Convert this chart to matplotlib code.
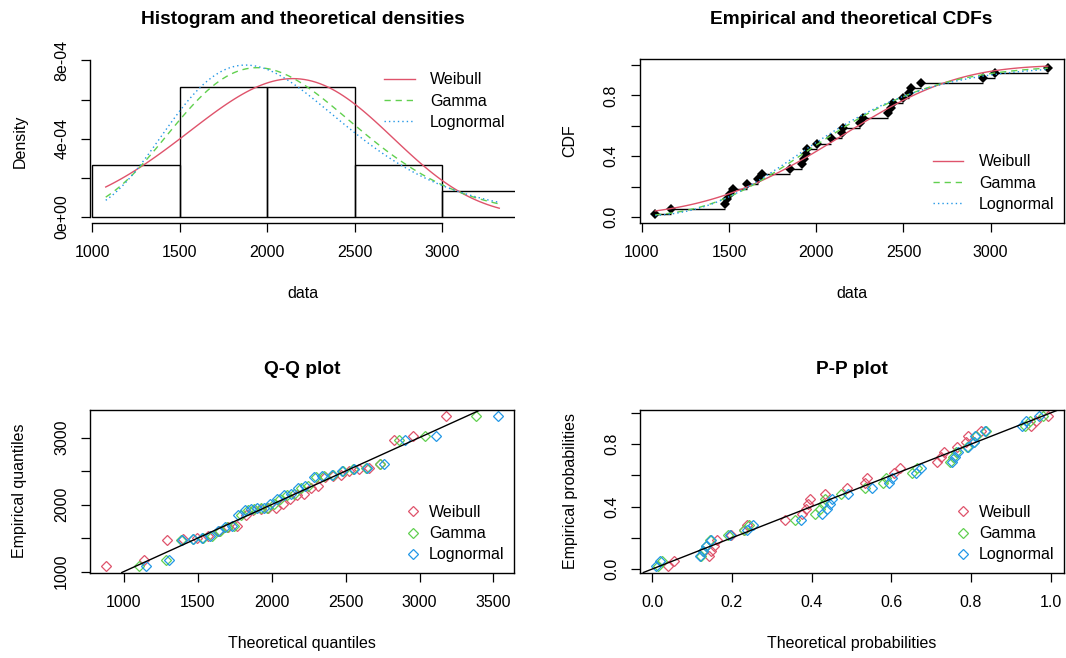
import math
import numpy as np
import matplotlib
matplotlib.use("Agg")
import matplotlib.pyplot as plt
from matplotlib.lines import Line2D

plt.rcParams['font.family'] = ['Liberation Sans', 'DejaVu Sans']

# Observed sample (n = 30)
data = [1076, 1166, 1477, 1490, 1505, 1525, 1605, 1668, 1687, 1849,
        1916, 1931, 1941, 1948, 2002, 2082, 2145, 2154, 2250, 2270,
        2412, 2426, 2441, 2495, 2532, 2542, 2603, 2956, 3027, 3328]
dist_names = ["Weibull", "Gamma", "Lognormal"]
dist_colors = ["#DF536B", "#61D04F", "#2297E6"]
dist_styles = ["-", (0, (4.5, 3.5)), (0, (1, 2.2))]
hist_breaks = [1000, 1500, 2000, 2500, 3000, 3500]


# ---------- small numeric helpers ----------
def bisect(f, lo, hi, n=200):
    flo = f(lo)
    for _ in range(n):
        mid = 0.5 * (lo + hi)
        fm = f(mid)
        if (fm > 0) == (flo > 0):
            lo, flo = mid, fm
        else:
            hi = mid
    return 0.5 * (lo + hi)


def digamma(a):
    r = 0.0
    while a < 6:
        r -= 1.0 / a
        a += 1.0
    f = 1.0 / (a * a)
    return r + math.log(a) - 0.5 / a - f * (1 / 12 - f * (1 / 120 - f * (1 / 252 - f * (1 / 240 - f / 132))))


def gamma_p(a, y):
    if y <= 0:
        return 0.0
    term = 1.0 / a
    s = term
    n = 1
    while n < 5000:
        term *= y / (a + n)
        s += term
        if term < s * 1e-16:
            break
        n += 1
    return min(1.0, s * math.exp(a * math.log(y) - y - math.lgamma(a)))


def norm_cdf(z):
    return 0.5 * (1 + math.erf(z / math.sqrt(2)))


# ---------- maximum likelihood fits ----------
x = np.array(data, float)
n = len(x)
lx = np.log(x)
zx = x / x.max()


def weib_score(k):
    w = zx ** k
    return np.sum(w * lx) / np.sum(w) - 1.0 / k - lx.mean()


wk = bisect(weib_score, 0.1, 100.0)
wl = x.max() * np.mean(zx ** wk) ** (1 / wk)

gs = math.log(x.mean()) - lx.mean()
ga = bisect(lambda a: math.log(a) - digamma(a) - gs, 1e-3, 1e5)
gr = ga / x.mean()

lm = lx.mean()
ls_ = lx.std()


def pdf(name, t):
    t = np.asarray(t, float)
    if name == "Weibull":
        return (wk / wl) * (t / wl) ** (wk - 1) * np.exp(-(t / wl) ** wk)
    if name == "Gamma":
        return np.exp((ga - 1) * np.log(t) - gr * t + ga * math.log(gr) - math.lgamma(ga))
    return np.exp(-(np.log(t) - lm) ** 2 / (2 * ls_ ** 2)) / (t * ls_ * math.sqrt(2 * math.pi))


def cdf(name, t):
    if name == "Weibull":
        return 1 - math.exp(-(t / wl) ** wk)
    if name == "Gamma":
        return gamma_p(ga, gr * t)
    return norm_cdf((math.log(t) - lm) / ls_)


def quantile(name, p):
    if name == "Weibull":
        return wl * (-math.log(1 - p)) ** (1 / wk)
    if name == "Gamma":
        return bisect(lambda t: cdf("Gamma", t) - p, 1e-9, 50 * x.mean())
    zp = bisect(lambda z: norm_cdf(z) - p, -12, 12)
    return math.exp(lm + ls_ * zp)


s = np.sort(x)
obsp = (np.arange(1, n + 1) - 0.5) / n
grid = np.linspace(s[0], s[-1], 102)
dens = {d: pdf(d, grid) for d in dist_names}
cdfs = {d: np.array([cdf(d, t) for t in grid]) for d in dist_names}
qtheo = {d: np.array([quantile(d, p) for p in obsp]) for d in dist_names}
ptheo = {d: np.array([cdf(d, t) for t in s]) for d in dist_names}

# ---------- figure layout ----------
W, H = 1066, 658
fig = plt.figure(figsize=(W / 100, H / 100), dpi=100)


def axes_px(x0, y0, x1, y1):
    return fig.add_axes([x0 / W, 1 - y1 / H, (x1 - x0) / W, (y1 - y0) / H])


FS = 11.5
TFS = 13.8


def style(ax, wpx, hpx, xlabel, ylabel, title):
    for sp in ax.spines.values():
        sp.set_linewidth(1.0)
    ax.tick_params(direction='out', length=6.5, width=0.9, pad=9.5, labelsize=FS)
    ax.tick_params(axis='y', labelrotation=90, pad=8.5)
    for lab in ax.get_yticklabels():
        lab.set_va('center')
    ax.set_xlabel(xlabel, fontsize=FS)
    ax.set_ylabel(ylabel, fontsize=FS)
    ax.xaxis.set_label_coords(0.5, -71 / hpx)
    ax.xaxis.label.set_va('center')
    ax.yaxis.set_label_coords(-70 / wpx, 0.5)
    ax.yaxis.label.set_va('center')
    ax.set_title(title, fontsize=TFS, fontweight='bold', pad=25.5)


def expand(lo, hi):
    r = hi - lo
    return lo - 0.04 * r, hi + 0.04 * r


def legend(ax, handles, xpx, ypx, hl, htp):
    ax.legend(handles=handles, loc='upper left',
              bbox_to_anchor=(xpx / W, 1 - ypx / H), bbox_transform=fig.transFigure,
              frameon=False, borderpad=0, borderaxespad=0, fontsize=FS,
              handlelength=hl, handletextpad=htp, labelspacing=0.39, numpoints=1)


line_handles = [Line2D([], [], color=c, ls=st, lw=1.0)
                for c, st in zip(dist_colors, dist_styles)]
point_handles = [Line2D([], [], color=c, ls='none', marker='D', mfc='none', mec=c,
                        ms=5, mew=0.9) for c in dist_colors]
for h, nm in zip(line_handles, dist_names):
    h.set_label(nm)
for h, nm in zip(point_handles, dist_names):
    h.set_label(nm)

xlim_data = expand(s[0], s[-1])

# ---------- histogram and densities ----------
ax1 = axes_px(90, 59, 515, 223)
counts, edges = np.histogram(x, bins=hist_breaks)
hdens = counts / (n * np.diff(edges))
ax1.bar(edges[:-1], hdens, width=np.diff(edges), align='edge', fill=False,
        edgecolor='black', linewidth=1.0)
for d, c, st in zip(dist_names, dist_colors, dist_styles):
    ax1.plot(grid, dens[d], color=c, ls=st, lw=1.0)
ymax = max(hdens.max(), max(dens[d].max() for d in dist_names))
ax1.set_xlim(*xlim_data)
ax1.set_ylim(-0.04 * ymax, 1.04 * ymax)
ax1.set_xticks([1000, 1500, 2000, 2500, 3000])
ax1.set_yticks([0, 2e-4, 4e-4, 6e-4, 8e-4])
ax1.set_yticklabels(["0e+00", "", "4e-04", "", "8e-04"])
ax1.spines['top'].set_visible(False)
ax1.spines['right'].set_visible(False)
ax1.spines['bottom'].set_bounds(1000, 3000)
ax1.spines['left'].set_bounds(0, 8e-4)
style(ax1, 425, 164, "data", "Density", "Histogram and theoretical densities")
legend(ax1, line_handles, 384, 72.5, 1.94, 0.94)

# ---------- empirical and theoretical CDFs ----------
ax2 = axes_px(639.5, 59, 1063.5, 223)
ax2.hlines(obsp[:-1], s[:-1], s[1:], color='black', lw=1.0)
ax2.plot(s, obsp, 'D', color='black', ms=5, mew=0)
for d, c, st in zip(dist_names, dist_colors, dist_styles):
    ax2.plot(grid, cdfs[d], color=c, ls=st, lw=1.0)
ax2.set_xlim(*xlim_data)
ax2.set_ylim(-0.04, 1.04)
ax2.set_xticks([1000, 1500, 2000, 2500, 3000])
ax2.set_yticks([0, 0.2, 0.4, 0.6, 0.8, 1.0])
ax2.set_yticklabels(["0.0", "", "0.4", "", "0.8", ""])
style(ax2, 424, 164, "data", "CDF", "Empirical and theoretical CDFs")
legend(ax2, line_handles, 933, 154.5, 1.88, 1.0)

# ---------- Q-Q plot ----------
ax3 = axes_px(90, 409.5, 514, 572.5)
for d, c in zip(dist_names, dist_colors):
    ax3.plot(qtheo[d], s, ls='none', marker='D', mfc='none', mec=c, ms=5, mew=0.9)
allq = np.concatenate([qtheo[d] for d in dist_names])
ax3.set_xlim(*expand(allq.min(), allq.max()))
ax3.set_ylim(*xlim_data)
ax3.axline((0, 0), slope=1, color='black', lw=1.0)
ax3.set_xticks([1000, 1500, 2000, 2500, 3000, 3500])
ax3.set_yticks([1000, 1500, 2000, 2500, 3000])
ax3.set_yticklabels(["1000", "", "2000", "", "3000"])
style(ax3, 424, 163, "Theoretical quantiles", "Empirical quantiles", "Q-Q plot")
legend(ax3, point_handles, 405, 505, 1.0, 0.5)

# ---------- P-P plot ----------
ax4 = axes_px(640, 409.5, 1063.5, 572.5)
for d, c in zip(dist_names, dist_colors):
    ax4.plot(ptheo[d], obsp, ls='none', marker='D', mfc='none', mec=c, ms=5, mew=0.9)
allp = np.concatenate([ptheo[d] for d in dist_names])
ax4.set_xlim(*expand(allp.min(), allp.max()))
ax4.set_ylim(*expand(obsp.min(), obsp.max()))
ax4.axline((0, 0), slope=1, color='black', lw=1.0)
ax4.set_xticks([0, 0.2, 0.4, 0.6, 0.8, 1.0])
ax4.set_xticklabels(["0.0", "0.2", "0.4", "0.6", "0.8", "1.0"])
ax4.set_yticks([0, 0.2, 0.4, 0.6, 0.8, 1.0])
ax4.set_yticklabels(["0.0", "", "0.4", "", "0.8", ""])
style(ax4, 423.5, 163, "Theoretical probabilities", "Empirical probabilities", "P-P plot")
legend(ax4, point_handles, 955, 505, 1.0, 0.5)

fig.savefig("out.png", dpi=100)
